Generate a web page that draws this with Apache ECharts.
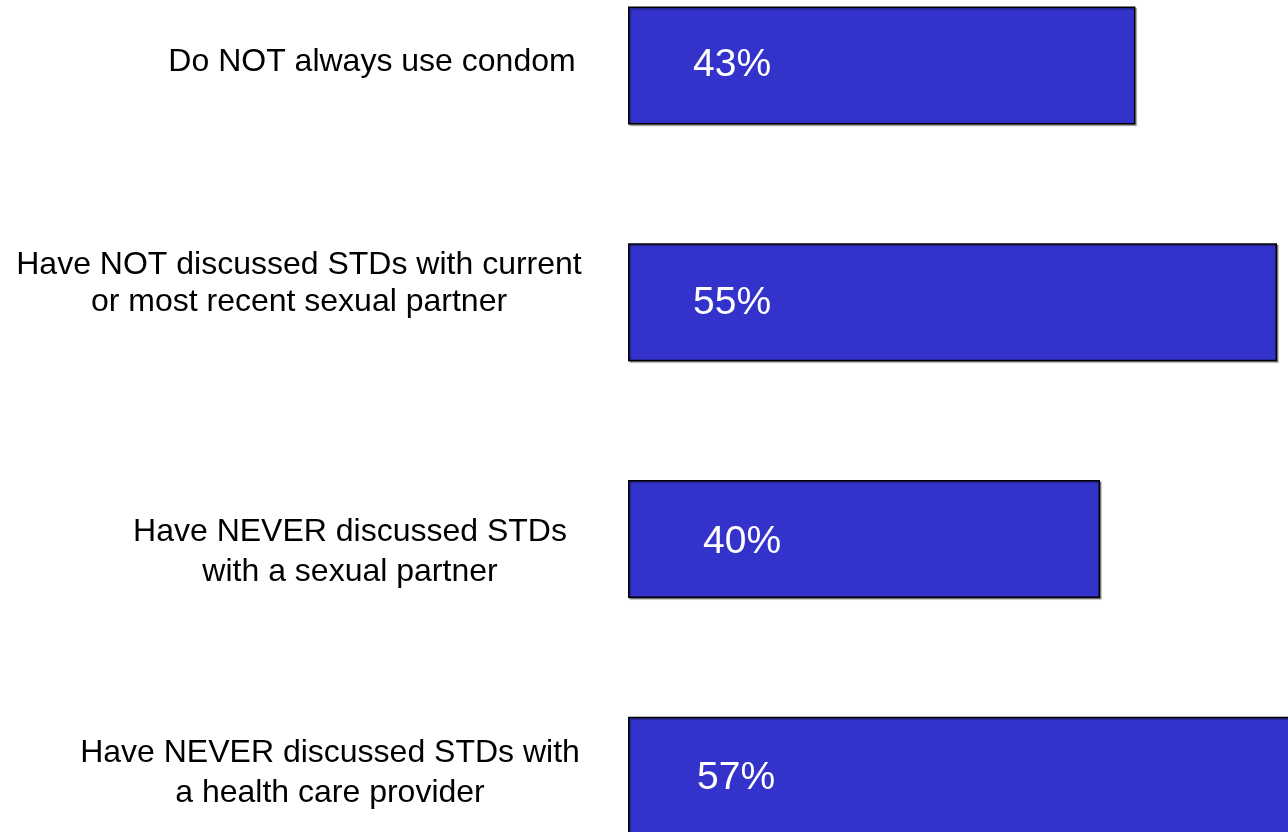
<!DOCTYPE html>
<html>
<head>
<meta charset="utf-8">
<script src="https://cdn.jsdelivr.net/npm/echarts@6/dist/echarts.min.js"></script>
<style>
html,body{margin:0;padding:0;background:#fff;}
#chart{width:1288px;height:832px;}
</style>
</head>
<body>
<div id="chart"></div>
<script>
// ---- data ----
const categories = [
  'Do NOT always use condom',
  'Have NOT discussed STDs with current\nor most recent sexual partner',
  'Have NEVER discussed STDs\nwith a sexual partner',
  'Have NEVER discussed STDs with\na health care provider'
];
const values = [43, 55, 40, 57];
const valueLabels = ['43%', '55%', '40%', '57%'];

// ---- layout config ----
// category label token padding [top, right, bottom, left] and line heights
const catLabelPadding = [
  [0, 0, 6, 0],
  [0, 146, 37, 0],
  [27, 44, 0, 0],
  [0, 84, 4, 0]
];
const catLineHeight = [38, 37, 40, 40];
// value label offsets [dx, dy]
const valueLabelOffset = [[0, 0], [0, 1], [10, 3], [4, 3]];

const rich = {};
categories.forEach((c, i) => {
  rich['c' + i] = {
    padding: catLabelPadding[i],
    lineHeight: catLineHeight[i],
    fontFamily: 'Liberation Sans, Arial, sans-serif',
    fontSize: 32,
    color: '#000000'
  };
});

const chart = echarts.init(document.getElementById('chart'), null, {renderer: 'canvas'});
chart.setOption({
  animation: false,
  backgroundColor: '#ffffff',
  grid: {left: 628, right: -48, top: -53, bottom: -62, containLabel: false, outerBoundsMode: 'none'},
  xAxis: {
    type: 'value', min: 0, max: 60, show: false
  },
  yAxis: {
    type: 'category',
    inverse: true,
    data: categories,
    axisLine: {show: false},
    axisTick: {show: false},
    splitLine: {show: false},
    axisLabel: {
      margin: 256,
      align: 'center',
      verticalAlign: 'middle',
      fontFamily: 'Liberation Sans, Arial, sans-serif',
      fontSize: 32,
      color: '#000000',
      formatter: (value, index) => value.split('\n').map(l => '{c' + index + '|' + l + '}').join('\n'),
      rich: rich
    }
  },
  series: [{
    type: 'bar',
    data: values.map((v, i) => ({value: v, label: {offset: valueLabelOffset[i]}})),
    barWidth: 118,
    itemStyle: {
      color: '#3333CC',
      borderColor: '#000000',
      borderWidth: 1.5,
      shadowColor: 'rgba(0,0,0,0.35)',
      shadowOffsetX: 1.5,
      shadowOffsetY: 1.5,
      shadowBlur: 1
    },
    label: {
      show: true,
      position: 'insideLeft',
      distance: 65,
      formatter: p => valueLabels[p.dataIndex],
      color: '#ffffff',
      fontFamily: 'Liberation Sans, Arial, sans-serif',
      fontSize: 39
    }
  }]
});
</script>
</body>
</html>
